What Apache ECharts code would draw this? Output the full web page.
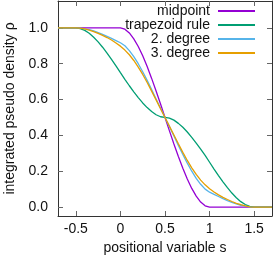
<!DOCTYPE html>
<html><head><meta charset="utf-8">
<script src="https://cdn.jsdelivr.net/npm/echarts@6/dist/echarts.min.js"></script>
<style>html,body{margin:0;padding:0;background:#fff}#c{width:274px;height:256px}</style>
</head><body><div id="c"></div>
<script>
// positional variable s (shared x grid of the read-off points)
const sValues = [-0.7,-0.65,-0.6,-0.55,-0.5,-0.45,-0.4,-0.35,-0.3,-0.25,-0.2,-0.15,-0.1,-0.05,0,
  0.05,0.1,0.15,0.2,0.25,0.3,0.35,0.4,0.45,0.5,0.55,0.6,0.65,0.7,0.75,0.8,0.85,0.9,0.95,1,
  1.05,1.1,1.15,1.2,1.25,1.3,1.35,1.4,1.45,1.5,1.55,1.6,1.65,1.7];
const midpoint = [1,1,1,1,1,1,1,1,1,1,1,1,1,1,1,
  0.993,0.972,0.939,0.896,0.844,0.784,0.718,0.648,0.575,0.5,0.425,0.352,0.282,0.216,0.156,0.104,0.061,0.028,0.007,0,
  0,0,0,0,0,0,0,0,0,0,0,0,0,0];
const trapezoid = [1,1,1,1,1,
  0.996,0.986,0.970,0.948,0.922,0.892,0.859,0.824,0.788,0.750,0.713,0.677,0.643,0.611,0.581,0.555,0.533,0.515,0.504,0.5,
  0.496,0.485,0.467,0.445,0.419,0.389,0.357,0.323,0.288,0.25,0.212,0.176,0.141,0.108,0.078,0.052,0.030,0.014,0.004,
  0,0,0,0,0];
const degree2 = [1,1,1,1,1,
  0.999,0.995,0.990,0.983,0.974,0.964,0.953,0.941,0.929,0.917,0.900,0.873,0.840,0.800,0.755,0.707,0.656,0.603,0.551,0.5,
  0.449,0.397,0.344,0.293,0.245,0.200,0.160,0.127,0.100,0.083,0.071,0.059,0.047,0.036,0.026,0.017,0.010,0.005,0.001,
  0,0,0,0,0];
const degree3 = [1,1,1,1,1,
  0.999,0.994,0.987,0.979,0.969,0.958,0.946,0.932,0.916,0.898,0.876,0.850,0.818,0.781,0.740,0.695,0.647,0.598,0.549,0.5,
  0.451,0.402,0.353,0.305,0.260,0.219,0.182,0.150,0.124,0.102,0.084,0.068,0.054,0.042,0.031,0.021,0.013,0.006,0.001,
  0,0,0,0,0];
const seriesNames = ['midpoint','trapezoid rule','2. degree','3. degree'];
const xTicks = [-0.5,0,0.5,1,1.5];
const yTicks = [0,0.2,0.4,0.6,0.8,1.0];

const seriesValues = [midpoint, trapezoid, degree2, degree3];
const colors = ['#9400d3','#009e73','#56b4e9','#e69f00'];
const FONT = 'Liberation Sans';
const FS = 14;
const frame = {show:true, onZero:false, lineStyle:{color:'#333', width:1}};
const tick = (vals) => ({show:true, inside:true, length:5, customValues:vals, lineStyle:{color:'#666', width:1}});

const chart = echarts.init(document.getElementById('c'), null, {renderer:'canvas'});
chart.setOption({
  animation:false,
  backgroundColor:'#fff',
  grid:{left:58, right:2, top:1, bottom:40, containLabel:false, outerBoundsMode:'none'},
  legend:{
    orient:'vertical', right:18, top:4, align:'right', padding:0,
    itemWidth:37, itemHeight:14, itemGap:0,
    itemStyle:{opacity:0},
    textStyle:{fontFamily:FONT, fontSize:FS, color:'#111', padding:[0,3,0,0]},
    data:seriesNames
  },
  xAxis:[{
    type:'value', min:-0.7, max:1.7, position:'bottom',
    axisLine:frame, axisTick:tick(xTicks), splitLine:{show:false},
    axisLabel:{customValues:xTicks, formatter:v=>String(v), margin:6, fontFamily:FONT, fontSize:FS, color:'#111'},
    name:'positional variable s', nameLocation:'middle', nameGap:25,
    nameTextStyle:{fontFamily:FONT, fontSize:FS, color:'#111'}
  },{
    type:'value', min:-0.7, max:1.7, position:'top',
    axisLine:frame, axisTick:tick(xTicks), axisLabel:{show:false}, splitLine:{show:false}
  }],
  yAxis:[{
    type:'value', min:-0.05, max:1.15, position:'left',
    axisLine:frame, axisTick:tick(yTicks), splitLine:{show:false},
    axisLabel:{customValues:yTicks, formatter:v=>v.toFixed(1), margin:10, fontFamily:FONT, fontSize:FS, color:'#111'},
    name:'integrated pseudo density ρ', nameLocation:'middle', nameGap:40, nameRotate:90,
    nameTextStyle:{fontFamily:FONT, fontSize:FS, color:'#111'}
  },{
    type:'value', min:-0.05, max:1.15, position:'right',
    axisLine:frame, axisTick:tick(yTicks), axisLabel:{show:false}, splitLine:{show:false}
  }],
  series: seriesNames.map((name,k)=>({
    name, type:'line', symbol:'none', smooth:false,
    data: sValues.map((s,i)=>[s, seriesValues[k][i]]),
    lineStyle:{color:colors[k], width:1.3}, itemStyle:{color:colors[k]}
  }))
});
</script></body></html>
